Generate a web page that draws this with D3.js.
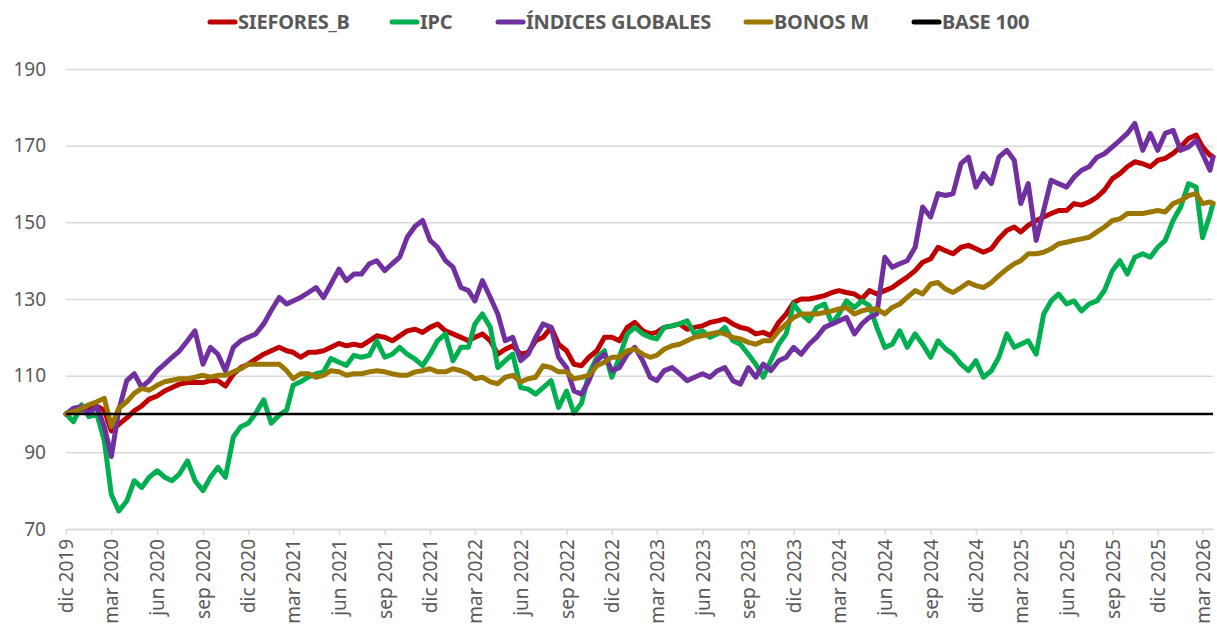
<!DOCTYPE html>
<html>
<head>
<meta charset="utf-8">
<script src="https://cdn.jsdelivr.net/npm/d3@7/dist/d3.min.js"></script>
<style>
  html, body { margin: 0; padding: 0; background: #fff; }
  svg { display: block; font-family: "Noto Sans", "Open Sans", sans-serif; }
</style>
</head>
<body>
<svg id="chart" width="1217" height="629"></svg>
<script>
// ---------- DATA (semi-monthly readings, Dec 2019 -> Mar 2026) ----------
const seriesNames = ["SIEFORES_B", "IPC", "ÍNDICES GLOBALES", "BONOS M", "BASE 100"];

const siefores = [
  100,100.5,101,101.5,102,101,95.6,97.3,99,100.8,102.1,103.9,
  104.7,106,106.9,107.8,108.2,108.2,108.2,108.7,108.7,107.3,110.4,112.1,
  113,114.3,115.6,116.5,117.4,116.5,116.1,114.8,116.1,116.1,116.5,117.4,
  118.4,117.8,118.2,117.8,119.1,120.4,120,119.1,120.4,121.7,122.1,121.3,
  122.6,123.5,121.7,120.9,120,119.1,120,120.9,119.1,115.6,116.9,117.8,
  115.6,116.1,119.1,120,122.6,118.2,116.5,113,112.6,114.8,116.5,120,
  120,119.1,122.6,123.9,121.7,120.9,121.3,122.6,123,123.5,122.1,122.6,
  123,123.9,124.3,124.8,123.5,122.6,122.1,120.9,121.3,120.4,123.9,126.1,
  129.1,130,130,130.4,130.9,131.7,132.2,131.7,131.3,130,132.2,131.3,
  132.2,133,134.4,135.7,137.4,139.6,140.5,143.5,142.6,141.8,143.5,144,
  143.1,142.2,143.1,145.7,147.9,148.8,147.5,149.2,150.5,151.4,152.3,153.1,
  153.1,154.9,154.5,155.3,156.6,158.4,161.4,162.7,164.5,165.8,165.3,164.5,
  166.2,166.7,168,169.7,171.9,172.8,169.7,167.5,167.1
];

const ipc = [
  100,98,102.4,99.3,100,93,79,74.7,77.3,82.6,80.8,83.5,
  85.2,83.5,82.6,84.4,87.8,82.6,80,83.5,86.1,83.5,94,96.7,
  97.6,100.2,103.7,97.6,99.7,101,107.5,108.4,109.7,110.5,111,114.5,
  113.5,112.7,115.3,114.8,115.3,119.1,114.8,115.6,117.4,115.6,114.3,112.6,
  115.6,119.1,120.9,113.9,117.4,117.4,123.5,126.1,122.6,112.1,113.9,115.6,
  106.9,106.5,105.2,106.9,108.7,101.7,106,100.2,102.8,110.5,114.8,116.5,
  109.6,114.8,120.9,122.6,120.9,120,119.6,122.6,123,123.5,124.3,120.9,
  121.7,120,120.9,122.6,119.1,118.2,115.6,113,109.6,113.9,118.2,120.9,
  128.7,126.1,124.3,127.8,128.7,123.5,126.1,129.5,127.8,129.5,128.3,122.6,
  117.4,118.2,121.7,117.4,120.9,118.2,114.8,119.1,117,115.6,113,111.3,
  113.9,109.6,111.3,114.8,120.9,117.4,118.2,119.1,115.6,126.1,129.5,131.3,
  128.7,129.5,126.9,128.7,129.5,132.2,137.4,140,136.5,140.9,141.8,140.9,
  143.5,145.3,150.5,154,160.1,159.2,146,152,154.9
];

const globales = [
  100,101.5,101.9,100.2,101.9,96.7,88.9,101,108.7,110.5,107,108.7,
  111.3,113,114.8,116.5,119.1,121.7,113,117.4,115.6,111.3,117.4,119.1,
  120,120.9,123.5,127,130.4,128.7,129.5,130.4,131.7,133,130.4,133.9,
  137.8,134.8,136.5,136.5,139.2,140,137.4,139.2,140.9,146.1,149,150.5,
  145.3,143.5,140,138.3,133,132.2,129.5,134.8,130.4,126.1,119.1,120,
  113.9,115.6,120,123.5,122.6,114.8,112.1,106,105.2,108.7,113.9,115.6,
  111.3,112.1,115.6,117.4,113.9,109.6,108.7,111.3,112.1,110.5,108.7,109.6,
  110.5,109.6,111.3,112.1,108.7,107.8,112.1,109.6,113,111.3,113.9,114.8,
  117.4,115.6,118.2,120,122.6,123.5,124.3,125.2,120.9,123.5,125.2,126.1,
  140.9,138.3,139.2,140,143.5,154,151.4,157.5,157,157.5,165.3,167,
  159.2,162.7,160.1,167,168.8,166.2,154.9,160.1,145.3,153.1,161,160.1,
  159.2,161.8,163.6,164.5,167,167.9,169.7,171.4,173.2,175.8,168.8,173.2,
  168.8,173.2,174,168.8,169.7,171.4,167.9,163.6,167
];

const bonos = [
  100,100.6,101.5,102.4,103.2,104.1,96.7,101.5,103.2,105.4,106.7,106.2,
  107.5,108.4,108.8,109.2,109.2,109.6,110.1,109.6,110.1,110.1,111,111.8,
  113,113,113,113,113,111.3,109.2,110.5,110.5,109.6,110.1,111.3,
  111,110.1,110.5,110.5,111,111.3,111,110.5,110.1,110.1,111,111.3,
  111.8,111,111,111.8,111.3,110.5,109.2,109.6,108.4,107.9,109.6,110.1,
  108.4,109.2,109.6,112.6,112.1,111,111,109.2,109.6,110.1,112.6,113.5,
  114.8,114.8,116.5,116.9,115.6,114.8,115.3,116.9,117.8,118.2,119.1,120,
  120.4,120.9,121.3,120.9,120,119.6,118.7,118.2,119.1,119.1,121.7,123.5,
  125.2,126.1,126.1,126.1,126.5,126.9,127.4,127.8,126.1,126.9,127.4,127.4,
  126.1,127.8,128.7,130.4,132.2,131.3,133.9,134.3,132.6,131.7,133,134.3,
  133.5,133,134.3,136.1,137.8,139.2,140,141.8,141.8,142.2,143.1,144.4,
  144.8,145.3,145.7,146.1,147.5,148.8,150.5,150.9,152.3,152.3,152.3,152.7,
  153.1,152.7,154.9,155.7,157,157.5,154.9,155.3,154.9
];

const baseValue = 100;

const yTicks = [70, 90, 110, 130, 150, 170, 190];
const xTickLabels = [
  "dic 2019","mar 2020","jun 2020","sep 2020","dic 2020","mar 2021","jun 2021",
  "sep 2021","dic 2021","mar 2022","jun 2022","sep 2022","dic 2022","mar 2023",
  "jun 2023","sep 2023","dic 2023","mar 2024","jun 2024","sep 2024","dic 2024",
  "mar 2025","jun 2025","sep 2025","dic 2025","mar 2026"
];

// Dates: semi-monthly (1st and 16th) from 1 Dec 2019, final reading 22 Mar 2026
const nSemi = siefores.length - 1;
const dates = d3.range(nSemi).map(i => new Date(2019, 11 + Math.floor(i / 2), i % 2 ? 16 : 1));
dates.push(new Date(2026, 2, 22));
const startDate = new Date(2019, 11, 1);
const endDate = new Date(2026, 2, 22);

// ---------- LAYOUT ----------
const svg = d3.select("#chart");
const left = 66, right = 1213, bottom = 529;
const x = d3.scaleTime().domain([startDate, endDate]).range([left, right]);
const y = d3.scaleLinear().domain([70, 195]).range([bottom, bottom - 125 * 3.833]);

const labelColor = "#595959";
const colors = ["#C00000", "#00B050", "#7030A0", "#9C7700", "#000000"];

// gridlines
const yAxis = d3.axisLeft(y).tickValues(yTicks).tickSize(-(right - left)).tickPadding(20);
const gy = svg.append("g").attr("transform", `translate(${left},0)`).call(yAxis);
gy.select(".domain").remove();
gy.selectAll(".tick line").attr("stroke", "#d9d9d9").attr("stroke-width", 1.5);
gy.selectAll(".tick text").attr("fill", labelColor).attr("font-size", 19)
  .attr("font-family", "'Noto Sans', sans-serif");

// x axis
const tickDates = xTickLabels.map((_, i) => d3.timeMonth.offset(startDate, 3 * i));
const xAxis = d3.axisBottom(x).tickValues(tickDates)
  .tickFormat((d, i) => xTickLabels[i]).tickSize(6).tickSizeOuter(0);
const gx = svg.append("g").attr("transform", `translate(0,${bottom})`).call(xAxis);
gx.select(".domain").attr("stroke", "#d9d9d9").attr("stroke-width", 1.5);
gx.selectAll(".tick line").attr("stroke", "#d9d9d9").attr("stroke-width", 1.5);
gx.selectAll(".tick text")
  .attr("fill", labelColor).attr("font-size", 19)
  .attr("font-family", "'Noto Sans', sans-serif")
  .attr("transform", "rotate(-90)")
  .attr("text-anchor", "end")
  .attr("x", -10).attr("y", 0).attr("dy", "0.35em");

// lines
const line = d3.line().x((d, i) => x(dates[i])).y(d => y(d)).curve(d3.curveLinear);
const allSeries = [siefores, ipc, globales, bonos];
allSeries.forEach((s, k) => {
  svg.append("path").datum(s)
    .attr("fill", "none").attr("stroke", colors[k]).attr("stroke-width", 5)
    .attr("stroke-linejoin", "round").attr("stroke-linecap", "round")
    .attr("d", line);
});
// base 100
svg.append("line")
  .attr("x1", x(startDate)).attr("x2", x(endDate))
  .attr("y1", y(baseValue)).attr("y2", y(baseValue))
  .attr("stroke", colors[4]).attr("stroke-width", 2.5);

// legend
const legendX = [208, 390, 496, 744, 912];
const lg = svg.append("g").attr("transform", "translate(0,22)");
seriesNames.forEach((name, i) => {
  const g = lg.append("g").attr("transform", `translate(${legendX[i]},0)`);
  g.append("line").attr("x1", 2).attr("x2", 27).attr("y1", 0).attr("y2", 0)
    .attr("stroke", colors[i]).attr("stroke-width", 5).attr("stroke-linecap", "round");
  g.append("text").attr("x", 30).attr("y", 0).attr("dy", "0.35em")
    .attr("fill", labelColor).attr("font-size", 20).attr("font-weight", "bold")
    .attr("letter-spacing", -0.2)
    .attr("font-family", "'Noto Sans', sans-serif").text(name);
});
</script>
</body>
</html>
